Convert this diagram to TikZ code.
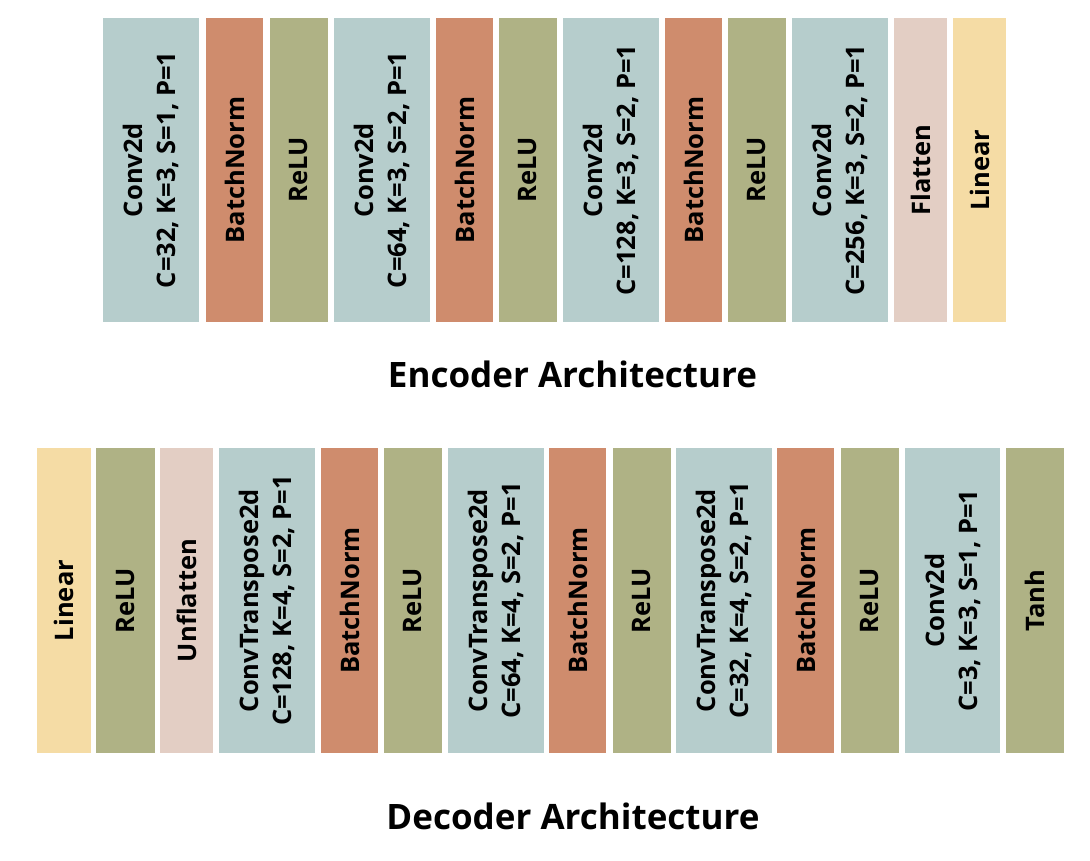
\documentclass[tikz,border=0pt]{standalone}
\usepackage{fontspec}
\setmainfont{Open Sans}
\definecolor{convc}{HTML}{B6CDCC}
\definecolor{bnc}{HTML}{CF8C6D}
\definecolor{reluc}{HTML}{AFB285}
\definecolor{flatc}{HTML}{E3CEC4}
\definecolor{linc}{HTML}{F5DCA5}
\newcommand{\blk}[7]{%
  \node[layer, fill=#6, minimum width={(#5)-(#4)}, minimum height={(#3)-(#2)}]
    (#1) at ({((#2)+(#3))/2},{((#4)+(#5))/2}) {#7};}
\begin{document}
\begin{tikzpicture}[x=1pt,y=-1pt,
  layer/.style={rotate=90, inner sep=0pt, align=center, font=\fontsize{25.5}{33}\selectfont\bfseries},
  title/.style={anchor=base, font=\fontsize{35}{40}\selectfont\bfseries}]
\useasboundingbox (0,0) rectangle (1090,860);
% Encoder
\blk{e1}{103}{199}{18}{322}{convc}{Conv2d\\C=32, K=3, S=1, P=1}
\blk{e2}{206}{263}{18}{322}{bnc}{BatchNorm}
\blk{e3}{270}{328}{18}{322}{reluc}{ReLU}
\blk{e4}{334}{430}{18}{322}{convc}{Conv2d\\C=64, K=3, S=2, P=1}
\blk{e5}{436}{493}{18}{322}{bnc}{BatchNorm}
\blk{e6}{499}{557}{18}{322}{reluc}{ReLU}
\blk{e7}{563}{659}{18}{322}{convc}{Conv2d\\C=128, K=3, S=2, P=1}
\blk{e8}{665}{722}{18}{322}{bnc}{BatchNorm}
\blk{e9}{728}{786}{18}{322}{reluc}{ReLU}
\blk{e10}{792}{888}{18}{322}{convc}{Conv2d\\C=256, K=3, S=2, P=1}
\blk{e11}{894}{947}{18}{322}{flatc}{Flatten}
\blk{e12}{953}{1006}{18}{322}{linc}{Linear}
\node[title] (enct) at (572.5,387) {Encoder Architecture};
% Decoder
\blk{d1}{37}{91}{448}{753}{linc}{Linear}
\blk{d2}{96}{155}{448}{753}{reluc}{ReLU}
\blk{d3}{160}{213}{448}{753}{flatc}{Unflatten}
\blk{d4}{219}{315}{448}{753}{convc}{ConvTranspose2d\\C=128, K=4, S=2, P=1}
\blk{d5}{321}{378}{448}{753}{bnc}{BatchNorm}
\blk{d6}{384}{442}{448}{753}{reluc}{ReLU}
\blk{d7}{448}{544}{448}{753}{convc}{ConvTranspose2d\\C=64, K=4, S=2, P=1}
\blk{d8}{549}{606}{448}{753}{bnc}{BatchNorm}
\blk{d9}{613}{671}{448}{753}{reluc}{ReLU}
\blk{d10}{676}{772}{448}{753}{convc}{ConvTranspose2d\\C=32, K=4, S=2, P=1}
\blk{d11}{777}{834}{448}{753}{bnc}{BatchNorm}
\blk{d12}{841}{899}{448}{753}{reluc}{ReLU}
\blk{d13}{905}{1000}{448}{753}{convc}{Conv2d\\C=3, K=3, S=1, P=1}
\blk{d14}{1006}{1064}{448}{753}{reluc}{Tanh}
\node[title] (dect) at (573,829) {Decoder Architecture};
\end{tikzpicture}
\end{document}
